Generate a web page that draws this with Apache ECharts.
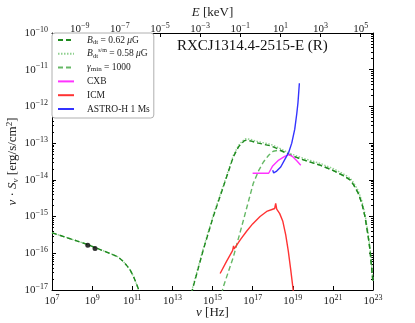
<!DOCTYPE html>
<html>
<head>
<meta charset="utf-8">
<script src="https://cdn.jsdelivr.net/npm/echarts@6/dist/echarts.min.js"></script>
<style>
  html, body { margin: 0; padding: 0; background: #fff; }
  #chart { width: 415px; height: 323px; }
</style>
</head>
<body>
<div id="chart"></div>
<script>
// all values are log10: [log10(nu / Hz), log10(nu*S_nu / erg/s/cm^2)]
const radioPoints = [[8.785, -15.78], [9.146, -15.87]];

const syncB062 = [
  [7.0, -15.44], [7.5, -15.53], [8.0, -15.62], [8.5, -15.71], [9.0, -15.81],
  [9.5, -15.92], [10.0, -16.03], [10.3, -16.10], [10.55, -16.22], [10.75, -16.35],
  [10.9, -16.46], [11.05, -16.62], [11.15, -16.75], [11.3, -16.96], [11.36, -17.1]
];
const icB062 = [
  [13.95, -17.1], [14.04, -16.91], [14.54, -15.91], [15.04, -15.0], [15.54, -14.19],
  [16.04, -13.37], [16.3, -13.1], [16.46, -13.0], [16.6, -12.93], [16.71, -12.92],
  [16.9, -12.94], [17.2, -12.99], [17.87, -13.07], [18.2, -13.14], [18.86, -13.32],
  [19.5, -13.45], [20.36, -13.60], [21.0, -13.74], [21.5, -13.88], [21.86, -14.0],
  [22.05, -14.15], [22.27, -14.37], [22.45, -14.65], [22.6, -15.0], [22.75, -15.5],
  [22.85, -15.91], [22.95, -16.5], [23.0, -16.82]
];
const icB058 = [
  [13.93, -17.1], [14.04, -16.87], [14.54, -15.87], [15.04, -14.96], [15.54, -14.15],
  [16.04, -13.33], [16.3, -13.06], [16.46, -12.96], [16.6, -12.89], [16.71, -12.88],
  [16.9, -12.90], [17.2, -12.95], [17.87, -13.03], [18.2, -13.10], [18.86, -13.28],
  [19.5, -13.41], [20.36, -13.55], [21.0, -13.69], [21.5, -13.83], [21.86, -13.95],
  [22.05, -14.09], [22.27, -14.30], [22.45, -14.58], [22.6, -14.93], [22.75, -15.43],
  [22.85, -15.84], [22.95, -16.42], [23.0, -16.75]
];
const icGmin1000 = [
  [15.45, -17.1], [15.54, -16.91], [16.04, -16.10], [16.54, -15.10], [17.03, -14.10],
  [17.3, -13.75], [17.53, -13.52], [17.8, -13.33], [18.03, -13.22], [18.3, -13.19],
  [18.6, -13.25], [18.86, -13.32], [19.5, -13.45], [20.36, -13.60], [21.0, -13.74],
  [21.5, -13.88], [21.86, -14.0], [22.05, -14.15], [22.27, -14.37], [22.45, -14.65],
  [22.6, -15.0], [22.75, -15.5], [22.85, -15.91], [22.95, -16.5], [23.0, -16.82]
];
const cxb = [
  [17.0, -13.82], [17.8, -13.82], [18.0, -13.62], [18.3, -13.46], [18.6, -13.36],
  [18.8, -13.31], [19.0, -13.37], [19.2, -13.48], [19.4, -13.60]
];
const icm = [
  [15.38, -16.55], [15.7, -16.22], [16.0, -15.93], [16.05, -15.80], [16.08, -15.88],
  [16.4, -15.62], [16.7, -15.40], [17.0, -15.2], [17.37, -15.0], [17.7, -14.86],
  [18.0, -14.80], [18.1, -14.78], [18.15, -14.64], [18.2, -14.80], [18.35, -14.92],
  [18.5, -15.12], [18.65, -15.5], [18.78, -15.95], [18.9, -16.45], [19.0, -16.9], [19.03, -17.05]
];
const astroH = [
  [18.0, -13.74], [18.05, -13.81], [18.2, -13.76], [18.4, -13.65], [18.6, -13.45],
  [18.8, -13.25], [18.95, -13.0], [19.1, -12.62], [19.2, -12.2], [19.26, -11.9],
  [19.3, -11.6], [19.33, -11.37]
];

// tick labels
const nuTicks = [7, 9, 11, 13, 15, 17, 19, 21, 23];
const eTicks = [-9, -7, -5, -3, -1, 1, 3, 5];
const sTicks = [-17, -16, -15, -14, -13, -12, -11, -10];

// keV <-> Hz: E = h nu, 1 keV = 2.418e17 Hz
const logKeVHz = Math.log10(2.418e17);

const FONT = 'Liberation Serif';
const pow = v => '{b|10}{e|' + (v < 0 ? '\u2212' + (-v) : v) + '}';
const powRich = {
  b: { fontFamily: FONT, fontSize: 11, color: '#222' },
  e: { fontFamily: FONT, fontSize: 8, color: '#222', padding: [0, 0, 7, 0] }
};

const legendText = {
  'Bdt': '{i|B}{s|dt}{n| = 0.62 }{i|\u03bc}{n|G}',
  'Bsm': '{i|B}{s|dt}{u|s/m}{n| = 0.58 }{i|\u03bc}{n|G}',
  'gmin': '{i|\u03b3}{s|min}{n| = 1000}',
  'CXB': '{n|CXB}',
  'ICM': '{n|ICM}',
  'ASTRO': '{n|ASTRO-H 1 Ms}'
};

// log minor ticks on the flux axis (2..9 x 10^n)
const yMinor = [];
for (let d = -17; d < -10; d++) for (let k = 2; k <= 9; k++) yMinor.push(d + Math.log10(k));

const chart = echarts.init(document.getElementById('chart'));

const blackLine = { onZero: false, lineStyle: { color: '#000', width: 1 } };
const tick = { inside: true, length: 4, lineStyle: { color: '#000' } };

const option = {
  animation: false,
  textStyle: { fontFamily: FONT },
  grid: { left: 52, right: 42, top: 33, bottom: 33, containLabel: false, outerBoundsMode: 'none' },
  title: {
    text: 'RXCJ1314.4-2515-E (R)',
    left: 172, top: 34,
    textStyle: { fontFamily: FONT, fontSize: 15, fontWeight: 'normal', color: '#111' }
  },
  legend: {
    orient: 'vertical',
    left: 52, top: 33,
    padding: [1, 4, 3, 5],
    itemWidth: 16, itemHeight: 8, itemGap: 1.8,
    borderColor: '#b0b0b0', borderWidth: 1, borderRadius: 3,
    backgroundColor: '#fff',
    itemStyle: { opacity: 0 },
    data: ['Bdt', 'Bsm', 'gmin', 'CXB', 'ICM', 'ASTRO'],
    formatter: name => legendText[name],
    textStyle: {
      fontFamily: FONT, fontSize: 9.5, color: '#222', lineHeight: 12,
      padding: [0, 0, 0, 8],
      rich: {
        n: { fontFamily: FONT, fontSize: 9.5, color: '#222' },
        i: { fontFamily: FONT, fontSize: 9.5, fontStyle: 'italic', color: '#222' },
        s: { fontFamily: FONT, fontSize: 7, color: '#222', padding: [4, 0, 0, 0] },
        u: { fontFamily: FONT, fontSize: 6, color: '#222', padding: [0, 0, 6, 0] }
      }
    }
  },
  xAxis: [{
    type: 'value', min: 7, max: 23, interval: 2,
    name: '{i|\u03bd} [Hz]', nameLocation: 'middle', nameGap: 16, nameMoveOverlap: false,
    nameTextStyle: { fontFamily: FONT, fontSize: 13, color: '#222',
      rich: { i: { fontFamily: FONT, fontSize: 13, fontStyle: 'italic', color: '#222' } } },
    axisLine: blackLine,
    axisTick: tick,
    axisLabel: { margin: 4, formatter: pow, rich: powRich, customValues: nuTicks, hideOverlap: false },
    splitLine: { show: false }
  }, {
    type: 'value', position: 'top',
    min: 7 - logKeVHz, max: 23 - logKeVHz,
    name: '{i|E} [keV]', nameLocation: 'middle', nameGap: 14, nameMoveOverlap: false,
    nameTextStyle: { fontFamily: FONT, fontSize: 13, color: '#222',
      rich: { i: { fontFamily: FONT, fontSize: 13, fontStyle: 'italic', color: '#222' } } },
    axisLine: blackLine,
    axisTick: Object.assign({ customValues: eTicks }, tick),
    axisLabel: { margin: -4, formatter: pow, rich: powRich, customValues: eTicks },
    splitLine: { show: false }
  }],
  yAxis: [{
    type: 'value', min: -17, max: -10, interval: 1,
    name: '{i|\u03bd} \u00b7 {i|S}{s|\u03bd} [erg/s/cm{u|2}]', nameLocation: 'middle', nameGap: 31,
    nameMoveOverlap: false,
    nameTextStyle: { fontFamily: FONT, fontSize: 13, color: '#222',
      rich: {
        i: { fontFamily: FONT, fontSize: 13, fontStyle: 'italic', color: '#222' },
        s: { fontFamily: FONT, fontSize: 9, fontStyle: 'italic', color: '#222', padding: [5, 0, 0, 0] },
        u: { fontFamily: FONT, fontSize: 9, color: '#222', padding: [0, 0, 7, 0] }
      } },
    axisLine: blackLine,
    axisTick: tick,
    axisLabel: { margin: 4, formatter: pow, rich: powRich, customValues: sTicks, hideOverlap: false },
    splitLine: { show: false }
  }, {
    type: 'value', position: 'right', min: -17, max: -10, interval: 1,
    axisLine: blackLine,
    axisTick: tick,
    axisLabel: { show: false },
    splitLine: { show: false }
  }, {
    type: 'value', position: 'left', min: -17, max: -10,
    axisLine: { show: false, onZero: false },
    axisTick: { inside: true, length: 2, lineStyle: { color: '#000' }, customValues: yMinor },
    axisLabel: { show: false },
    splitLine: { show: false }
  }, {
    type: 'value', position: 'right', min: -17, max: -10,
    axisLine: { show: false, onZero: false },
    axisTick: { inside: true, length: 2, lineStyle: { color: '#000' }, customValues: yMinor },
    axisLabel: { show: false },
    splitLine: { show: false }
  }],
  series: [
    { name: 'Bdt', type: 'line', data: syncB062, showSymbol: false, symbol: 'none', clip: true,
      lineStyle: { color: '#1f8a1f', width: 1.4, type: [5, 3] }, itemStyle: { color: '#1f8a1f' }, z: 4 },
    { name: 'Bdt', type: 'line', data: icB062, showSymbol: false, symbol: 'none', clip: true,
      lineStyle: { color: '#1f8a1f', width: 1.4, type: [5, 3] }, itemStyle: { color: '#1f8a1f' }, z: 4 },
    { name: 'Bsm', type: 'line', data: syncB062, showSymbol: false, symbol: 'none', clip: true,
      lineStyle: { color: '#8fd08f', width: 1.4, type: [1.5, 1.5] }, itemStyle: { color: '#8fd08f' }, z: 3 },
    { name: 'Bsm', type: 'line', data: icB058, showSymbol: false, symbol: 'none', clip: true,
      lineStyle: { color: '#8fd08f', width: 1.4, type: [1.5, 1.5] }, itemStyle: { color: '#8fd08f' }, z: 3 },
    { name: 'gmin', type: 'line', data: icGmin1000, showSymbol: false, symbol: 'none', clip: true,
      lineStyle: { color: '#66b866', width: 1.4, type: [5, 3] }, itemStyle: { color: '#66b866' }, z: 2 },
    { name: 'CXB', type: 'line', data: cxb, showSymbol: false, symbol: 'none', clip: true,
      lineStyle: { color: '#ff33ff', width: 1.4 }, itemStyle: { color: '#ff33ff' }, z: 5 },
    { name: 'ICM', type: 'line', data: icm, showSymbol: false, symbol: 'none', clip: true,
      lineStyle: { color: '#ff3333', width: 1.4 }, itemStyle: { color: '#ff3333' }, z: 5 },
    { name: 'ASTRO', type: 'line', data: astroH, showSymbol: false, symbol: 'none', clip: true,
      lineStyle: { color: '#3333ff', width: 1.4 }, itemStyle: { color: '#3333ff' }, z: 6 },
    { name: 'radio', type: 'scatter', data: radioPoints, symbolSize: 5,
      itemStyle: { color: '#000' }, z: 7 }
  ]
};

chart.setOption(option);
</script>
</body>
</html>
